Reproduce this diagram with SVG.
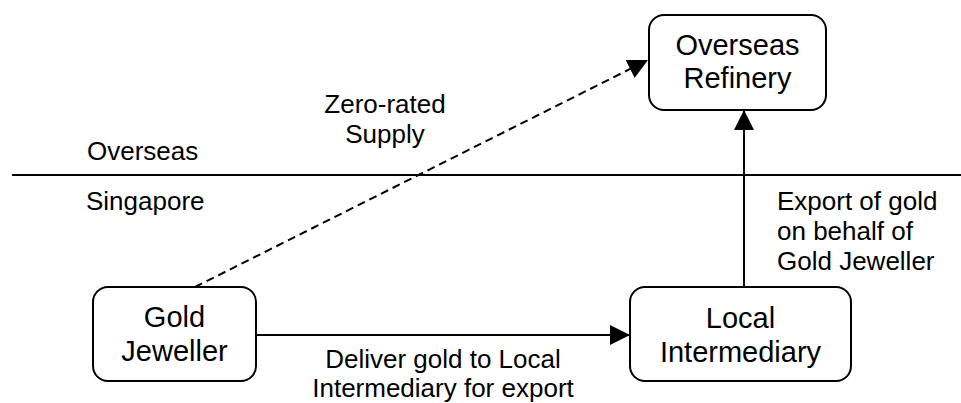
<svg xmlns="http://www.w3.org/2000/svg" width="961" height="403" viewBox="0 0 961 403">
  <style>
    .box { fill: #ffffff; stroke: #000000; stroke-width: 2; }
    .label { font-family: "Liberation Sans", Arial, sans-serif; font-size: 29px; fill: #000000; }
    .small { font-family: "Liberation Sans", Arial, sans-serif; font-size: 26px; fill: #000000; }
    .mid { text-anchor: middle; }
    .edge { fill: none; stroke: #000000; stroke-width: 2; }
  </style>
  <defs>
    <marker id="arrow" markerUnits="userSpaceOnUse" markerWidth="20" markerHeight="20" refX="20" refY="10" orient="auto" viewBox="0 0 20 20">
      <path d="M0,0 L20,10 L0,20 z" fill="#000000"/>
    </marker>
  </defs>

  <!-- border between the two territories -->
  <g id="border">
    <line x1="12" y1="175" x2="961" y2="175" stroke="#000000" stroke-width="2"/>
    <text class="small" x="87" y="160">Overseas</text>
    <text class="small" x="86" y="210">Singapore</text>
  </g>

  <!-- connectors -->
  <g id="connectors">
    <line class="edge" x1="195" y1="287" x2="648" y2="60" stroke-dasharray="8,5" marker-end="url(#arrow)"/>
    <line class="edge" x1="256" y1="335" x2="630" y2="335" marker-end="url(#arrow)"/>
    <line class="edge" x1="744" y1="287" x2="744" y2="110" stroke-width="1.5" marker-end="url(#arrow)"/>
    <text class="small mid" x="385" y="113">Zero-rated</text>
    <text class="small mid" x="385" y="143">Supply</text>
    <text class="small mid" x="443" y="368">Deliver gold to Local</text>
    <text class="small mid" x="443" y="397">Intermediary for export</text>
    <text class="small" x="777" y="210">Export of gold</text>
    <text class="small" x="777" y="240">on behalf of</text>
    <text class="small" x="777" y="270">Gold Jeweller</text>
  </g>

  <g id="overseas-refinery">
    <rect class="box" x="649" y="15" width="177" height="95" rx="15" ry="15"/>
    <text class="label mid" x="737.5" y="55">Overseas</text>
    <text class="label mid" x="737.5" y="88">Refinery</text>
  </g>

  <g id="gold-jeweller">
    <rect class="box" x="93" y="287" width="163" height="94" rx="15" ry="15"/>
    <text class="label mid" x="174.5" y="327">Gold</text>
    <text class="label mid" x="174.5" y="361">Jeweller</text>
  </g>

  <g id="local-intermediary">
    <rect class="box" x="630" y="287" width="221" height="94" rx="15" ry="15"/>
    <text class="label mid" x="740.5" y="328">Local</text>
    <text class="label mid" x="740.5" y="362">Intermediary</text>
  </g>
</svg>
